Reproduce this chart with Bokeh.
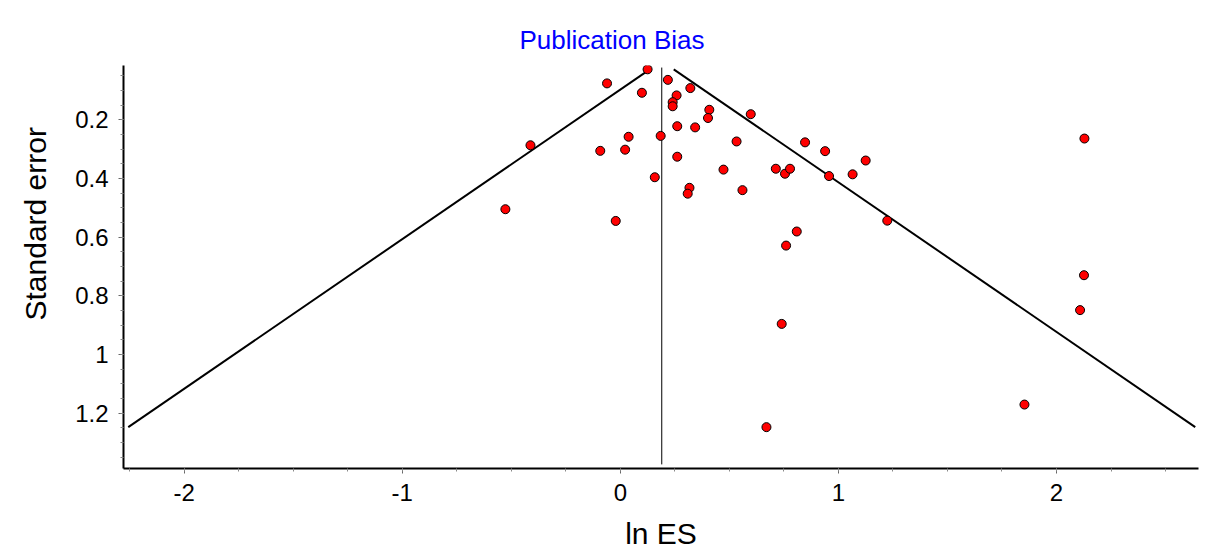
from bokeh.plotting import figure
from bokeh.models import Range1d, FixedTicker, CustomJSTickFormatter, Title
from bokeh.embed import file_html
from bokeh.resources import INLINE
import numpy as np

# ---- data (ln effect size, standard error) ----
ln_es = [0.125, -0.061, 0.099, 0.218, 0.321, 0.258, 0.240, 0.240, 0.408, 0.402,
         0.598, -0.412, 0.038, 0.185, 0.261, 0.343, 0.533, 0.847, -0.092, 0.022,
         0.261, 0.158, 0.473, 0.713, 0.755, 0.778, 0.317, 0.309, 0.560, -0.527,
         -0.021, 0.809, 0.760, 0.939, 1.125, 0.957, 1.065, 1.224, 0.740, 0.670,
         1.853, 2.126, 2.108, 2.128]
std_err = [0.028, 0.076, 0.108, 0.064, 0.092, 0.117, 0.140, 0.154, 0.166, 0.194,
           0.181, 0.287, 0.258, 0.255, 0.222, 0.226, 0.274, 0.277, 0.306, 0.302,
           0.326, 0.396, 0.370, 0.367, 0.384, 0.367, 0.432, 0.452, 0.440, 0.505,
           0.545, 0.581, 0.629, 0.307, 0.339, 0.392, 0.386, 0.544, 0.896, 1.248,
           1.171, 0.730, 0.849, 0.264]
pooled = 0.19
z = 1.96

x_ticks = [-2, -1, 0, 1, 2]
y_ticks = [0.2, 0.4, 0.6, 0.8, 1.0, 1.2]
title_text = "Publication Bias"
x_label = "ln ES"
y_label = "Standard error"

FONT = "Liberation Sans"

p = figure(width=1217, height=552, output_backend="svg", toolbar_location=None,
           x_range=Range1d(-2.278, 2.651), y_range=Range1d(1.389, 0.015),
           min_border_left=122, min_border_right=19, min_border_top=65,
           min_border_bottom=84)
p.outline_line_color = None
p.grid.visible = False
p.background_fill_color = "white"

# funnel
se_min, se_max = min(std_err), max(std_err)
p.line([pooled - z * se_max, pooled - z * se_min], [se_max, se_min],
       line_color="black", line_width=2)
p.line([pooled + z * se_min, pooled + z * se_max], [se_min, se_max],
       line_color="black", line_width=2)
p.line([pooled, pooled], [0.022, 1.375], line_color="black", line_width=1)

p.scatter(ln_es, std_err, size=9, fill_color="red", line_color="black", line_width=1)

# axes
p.xaxis.ticker = FixedTicker(ticks=x_ticks,
                             minor_ticks=list(np.arange(-2.25, 2.51, 0.25)))
p.yaxis.ticker = FixedTicker(ticks=y_ticks,
                             minor_ticks=list(np.arange(0.05, 1.36, 0.05)))
fmt = CustomJSTickFormatter(code="return String(Number(tick.toFixed(2)));")
p.yaxis.formatter = fmt
p.xaxis.formatter = fmt

for ax in (p.xaxis[0], p.yaxis[0]):
    ax.axis_line_width = 2
    ax.axis_line_color = "black"
    ax.major_tick_line_color = "#666666"
    ax.minor_tick_line_color = "#888888"
    ax.major_tick_out = 5
    ax.major_tick_in = 0
    ax.minor_tick_out = 3
    ax.minor_tick_in = 0
    ax.major_label_text_font = FONT
    ax.major_label_text_font_size = "24px"
    ax.major_label_text_color = "black"
    ax.axis_label_text_font = FONT
    ax.axis_label_text_font_size = "30px"
    ax.axis_label_text_font_style = "normal"
    ax.axis_label_text_color = "black"

p.xaxis.major_label_standoff = 10
p.yaxis.major_label_standoff = 10
p.xaxis.axis_label = x_label
p.xaxis.axis_label_standoff = 13

# y axis title as a side title so it can sit higher, like the reference
p.add_layout(Title(text=y_label, align="left", offset=148, vertical_align="top",
                   text_font=FONT, text_font_size="30px",
                   text_font_style="normal", text_color="black", standoff=37),
             "left")

p.add_layout(Title(text=title_text, align="left", offset=396,
                   text_font=FONT, text_font_size="26px",
                   text_font_style="normal", text_color="blue", standoff=22),
             "above")

open("out.html", "w").write(file_html(p, INLINE))
